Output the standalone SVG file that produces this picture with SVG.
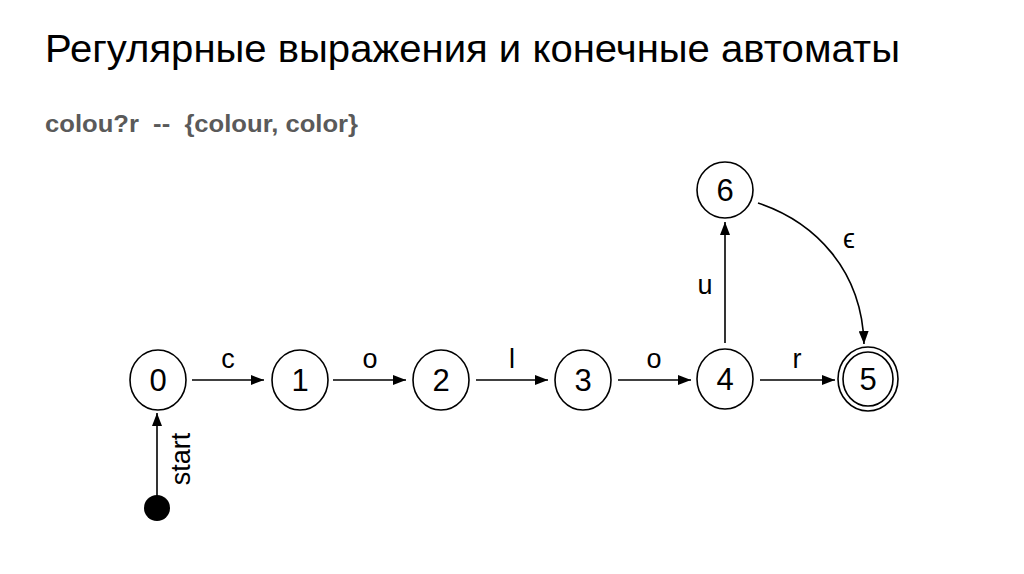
<svg xmlns="http://www.w3.org/2000/svg" width="1024" height="574" viewBox="0 0 1024 574">
<defs>
<style>
.node{fill:#fff;stroke:#000;stroke-width:1.6}
.lbl{font-family:"Liberation Sans",Arial,sans-serif;font-size:31px;fill:#000;text-anchor:middle}
.elbl{font-family:"Liberation Sans",Arial,sans-serif;font-size:27px;fill:#000;text-anchor:middle}
.edge{fill:none;stroke:#000;stroke-width:1.6}
</style>
<marker id="arr" viewBox="0 0 13 10" refX="13" refY="5" markerWidth="13" markerHeight="10" markerUnits="userSpaceOnUse" orient="auto">
<path d="M0,0 L13,5 L0,10 Z" fill="#000"/>
</marker>
</defs>
<rect width="1024" height="574" fill="#fff"/>
<text x="45" y="62" font-family="'Liberation Sans',Arial,sans-serif" font-size="38" fill="#000" textLength="855" lengthAdjust="spacingAndGlyphs">Регулярные выражения и конечные автоматы</text>
<text x="45" y="132" font-family="'Liberation Sans',Arial,sans-serif" font-size="24" font-weight="bold" fill="#5a5a5a" textLength="313" lengthAdjust="spacingAndGlyphs" xml:space="preserve">colou?r  --  {colour, color}</text>

<g id="connectors">
<line class="edge" x1="157" y1="500" x2="157" y2="413" marker-end="url(#arr)"/>
<line class="edge" x1="192" y1="380" x2="264" y2="380" marker-end="url(#arr)"/>
<line class="edge" x1="333" y1="380" x2="406" y2="380" marker-end="url(#arr)"/>
<line class="edge" x1="476" y1="380" x2="548" y2="380" marker-end="url(#arr)"/>
<line class="edge" x1="618" y1="380" x2="691" y2="380" marker-end="url(#arr)"/>
<line class="edge" x1="760" y1="380" x2="835" y2="380" marker-end="url(#arr)"/>
<line class="edge" x1="725" y1="343" x2="725" y2="222" marker-end="url(#arr)"/>
<path class="edge" d="M758,203 C815,222 862,270 864,344" marker-end="url(#arr)"/>
<text class="elbl" x="183" y="459" transform="rotate(-90 183 459)" dominant-baseline="middle" font-size="30">start</text>
<text class="elbl" x="228" y="368">c</text>
<text class="elbl" x="370" y="368">o</text>
<text class="elbl" x="512" y="368">l</text>
<text class="elbl" x="654" y="368">o</text>
<text class="elbl" x="797" y="368">r</text>
<text class="elbl" x="705" y="294">u</text>
<text class="elbl" x="849" y="248" font-family="'DejaVu Sans',sans-serif" font-size="30">ϵ</text>
</g>

<g id="start"><circle cx="157" cy="508" r="13" fill="#000"/></g>
<g id="n0"><ellipse class="node" cx="158" cy="380" rx="28" ry="30"/><text class="lbl" x="158" y="391">0</text></g>
<g id="n1"><ellipse class="node" cx="300" cy="380" rx="28" ry="30"/><text class="lbl" x="300" y="391">1</text></g>
<g id="n2"><ellipse class="node" cx="441" cy="380" rx="28" ry="30"/><text class="lbl" x="441" y="391">2</text></g>
<g id="n3"><ellipse class="node" cx="583" cy="380" rx="28" ry="30"/><text class="lbl" x="583" y="391">3</text></g>
<g id="n4"><ellipse class="node" cx="725" cy="379" rx="28" ry="30"/><text class="lbl" x="725" y="390">4</text></g>
<g id="n5"><ellipse class="node" cx="868" cy="379" rx="30" ry="32"/><ellipse class="node" cx="868" cy="379" rx="25" ry="27"/><text class="lbl" x="868" y="390">5</text></g>
<g id="n6"><ellipse class="node" cx="725" cy="190" rx="28" ry="28"/><text class="lbl" x="725" y="201">6</text></g>
</svg>
